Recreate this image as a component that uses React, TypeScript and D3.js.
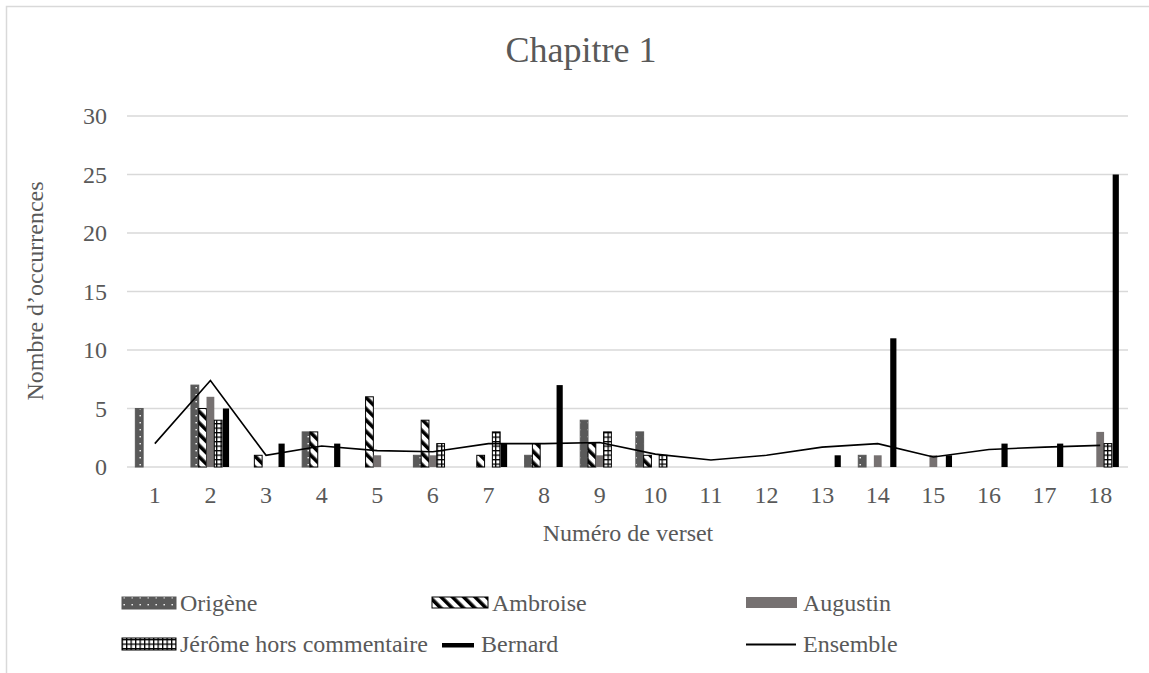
import React from "react";
import * as d3 from "d3";

const categories = ["1","2","3","4","5","6","7","8","9","10","11","12","13","14","15","16","17","18"];
const seriesNames = ["Origène", "Ambroise", "Augustin", "Jérôme hors commentaire", "Bernard"];
const origene = [5, 7, 0, 3, 0, 1, 0, 1, 4, 3, 0, 0, 0, 1, 0, 0, 0, 0];
const ambroise = [0, 5, 1, 3, 6, 4, 1, 2, 2, 1, 0, 0, 0, 0, 0, 0, 0, 0];
const augustin = [0, 6, 0, 0, 1, 1, 0, 0, 1, 0, 0, 0, 0, 1, 1, 0, 0, 3];
const jerome = [0, 4, 0, 0, 0, 2, 3, 0, 3, 1, 0, 0, 0, 0, 0, 0, 0, 2];
const bernard = [0, 5, 2, 2, 0, 0, 2, 7, 0, 0, 0, 0, 1, 11, 1, 2, 2, 25];
const ensemble = [2, 7.4, 1, 1.8, 1.4, 1.3, 2, 2, 2.1, 1.1, 0.6, 1, 1.7, 2, 0.85, 1.5, 1.7, 1.85];
const yTicks = [0, 5, 10, 15, 20, 25, 30];

const FONT = "Liberation Serif, Times New Roman, DejaVu Serif, serif";
const TXT = "#595959";
const GRID = "#d9d9d9";

const fills = ["url(#pOrig)", "url(#pAmb)", "#767171", "url(#pJer)", "#000000"];
const strokes = ["#595959", "#000000", "none", "#000000", "none"];

const T = (props: any) => <text {...props} style={{ fontFamily: FONT }} fill={TXT} />;

export default function App() {
  const W = 1149, H = 673;
  const x0 = d3.scaleBand<string>().domain(categories).range([127, 1128]).paddingInner(0.3).paddingOuter(0.15);
  const x1 = d3.scaleBand<string>().domain(seriesNames).range([0, x0.bandwidth()]);
  const y = d3.scaleLinear().domain([0, 30]).range([467, 116]);
  const allSeries = [origene, ambroise, augustin, jerome, bernard];
  const bw = x1.bandwidth();
  const line = d3.line<number>()
    .x((_, i) => (x0(categories[i]) as number) + x0.bandwidth() / 2)
    .y((d) => y(d));

  return (
    <svg width={W} height={H} style={{ position: "absolute", left: 0, top: 0, background: "#fff", fontFamily: FONT }}>
      <defs>
        <pattern id="pOrig" patternUnits="userSpaceOnUse" width="8" height="7">
          <rect width="8" height="7" fill="#595959" />
          <rect x="3.5" y="2" width="1.4" height="1.4" fill="#ffffff" />
        </pattern>
        <pattern id="pAmb" patternUnits="userSpaceOnUse" width="8" height="8" patternTransform="rotate(-45)">
          <rect width="8" height="8" fill="#ffffff" />
          <rect width="3.6" height="8" fill="#000000" />
        </pattern>
        <pattern id="pJer" patternUnits="userSpaceOnUse" width="4.5" height="4.5">
          <rect width="4.5" height="4.5" fill="#ffffff" />
          <rect width="4.5" height="1.3" fill="#000000" />
          <rect width="1.3" height="4.5" fill="#000000" />
        </pattern>
      </defs>
      <rect x={6.5} y={6.5} width={1200} height={800} fill="#fff" stroke={GRID} strokeWidth={1.5} />
      <T x={581} y={62} textAnchor="middle" fontSize={36}>Chapitre 1</T>
      {yTicks.map((t) => (
        <g key={t}>
          <line x1={127} x2={1128} y1={y(t)} y2={y(t)} stroke={GRID} strokeWidth={1.5} />
          <T x={107} y={y(t) + 8} textAnchor="end" fontSize={24}>{t}</T>
        </g>
      ))}
      {categories.map((c) => (
        <T key={c} x={(x0(c) as number) + x0.bandwidth() / 2} y={503} textAnchor="middle" fontSize={24}>{c}</T>
      ))}
      {allSeries.map((vals, si) => (
        <g key={si}>
          {vals.map((v, ci) => {
            if (v <= 0) return null;
            const xx = (x0(categories[ci]) as number) + (x1(seriesNames[si]) as number);
            const inset = si === 4 ? 0.8 : 0;
            return (
              <rect key={ci} x={xx + inset} y={y(v)} width={bw - 2 * inset} height={y(0) - y(v)}
                fill={fills[si]} stroke={strokes[si]} strokeWidth={1} />
            );
          })}
        </g>
      ))}
      <path d={line(ensemble) || ""} fill="none" stroke="#000" strokeWidth={1.6} />
      <T transform="translate(43,291) rotate(-90)" textAnchor="middle" fontSize={24}>Nombre d’occurrences</T>
      <T x={628} y={541} textAnchor="middle" fontSize={24}>Numéro de verset</T>
      <rect x={122} y={597} width={54} height={12} fill="url(#pOrig)" stroke="#595959" strokeWidth={1} />
      <T x={180} y={611} fontSize={24}>{seriesNames[0]}</T>
      <rect x={432} y={597} width={56} height={11} fill="url(#pAmb)" stroke="#000" strokeWidth={1} />
      <T x={492} y={611} fontSize={24}>{seriesNames[1]}</T>
      <rect x={746} y={597} width={51} height={11} fill="#767171" />
      <T x={803} y={611} fontSize={24}>{seriesNames[2]}</T>
      <rect x={122} y={638} width={54} height={12} fill="url(#pJer)" stroke="#000" strokeWidth={1} />
      <T x={180} y={652} fontSize={24}>{seriesNames[3]}</T>
      <rect x={442} y={643} width={32} height={4.5} fill="#000" />
      <T x={481} y={652} fontSize={24}>{seriesNames[4]}</T>
      <line x1={746} x2={796} y1={644.5} y2={644.5} stroke="#000" strokeWidth={2} />
      <T x={803} y={652} fontSize={24}>Ensemble</T>
    </svg>
  );
}
